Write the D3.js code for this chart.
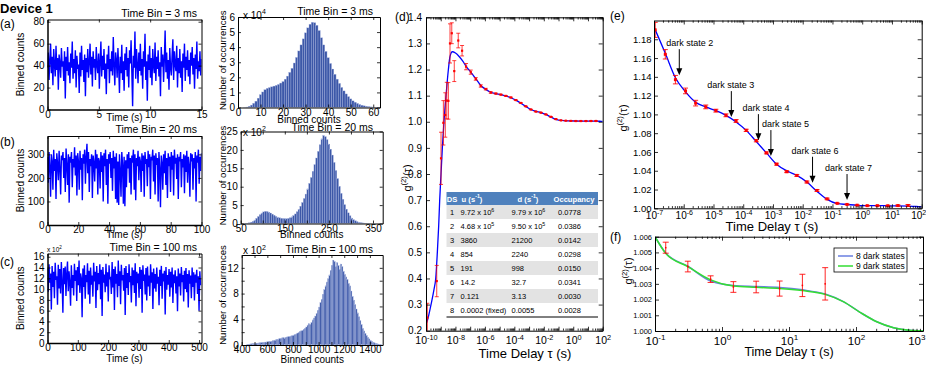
<!DOCTYPE html>
<html>
<head>
<meta charset="utf-8">
<script src="https://cdn.jsdelivr.net/npm/d3@7"></script>
<style>
body { margin: 0; background: #fff; }
</style>
</head>
<body>
<div id="fig"></div>
<script>
// ---- time traces (binned counts) ----
const traceA = [38,52,27,45,60,33,48,22,55,41,30,58,36,47,18,50,42,29,56,39,
  44,26,53,10,48,35,57,31,43,24,51,38,62,28,46,33,54,20,49,37,
  41,15,52,30,58,36,45,25,50,12,47,34,55,29,43,60,32,48,21,53,
  38,46,27,57,40,33,51,19,44,62,30,49,36,55,28,42,14,50,37,58,
  24,46,35,53,31,66,40,22,52,45,29,56,38,15,48,33,59,27,44,17,
  51,36,57,30,47,20,54,42,63,34,3,49,38,71,28,55,41,24,52,35,
  60,31,46,19,53,39,69,27,44,8,50,36,58,29,47,22,55,40,33,61,
  26,48,37,54,30,43,12,57,39,50,25,46,72,34,52,28,45,18,56,38,
  31,49,64,27,53,41,35,58,20,47,33,55,29,44,16,51,38,60,26,48,
  36,54,30,45,23,52,40,57,32,47,19,50,37,62,28,44,35,53,31,46];
const traceB = [290,180,310,250,120,300,270,150,320,230,280,110,305,260,190,315,240,130,295,275,
  310,200,285,140,325,255,170,300,95,290,265,310,160,280,245,330,210,295,125,305,
  270,150,315,235,285,105,300,260,320,175,290,345,220,310,140,280,250,300,115,295,
  265,185,320,240,300,130,285,270,155,310,225,295,100,305,250,320,170,280,90,300,
  260,310,200,285,145,315,240,290,110,305,95,270,85,300,230,120,310,255,90,290,
  80,275,160,300,240,310,180,285,130,295,265,320,150,300,105,285,250,315,190,290,
  270,140,305,230,295,120,310,260,280,165,315,245,300,110,290,275,320,185,295,130,
  305,255,285,100,310,240,75,295,265,150,300,220,315,170,285,115,305,250,290,140,
  310,235,295,125,320,260,285,195,300,110,290,270,310,160,280,245,300,135,295,225,
  315,180,290,255,120,305,270,300,150,285,240,310,100,295,265,320,175,290,230,305];
const traceC = [13.8,9.5,14.6,11.2,12.9,6.2,14.3,10.4,13.2,8.3,14.9,11.7,12.4,7.1,14.5,10.1,13.7,9.2,15.0,11.4,
  5.6,13.9,10.9,14.2,8.7,12.8,15.1,9.6,13.3,11.1,6.9,14.4,10.2,12.6,8.8,14.7,11.5,13.5,7.8,14.1,
  10.7,15.3,9.3,12.9,12.0,4.8,13.8,10.4,14.4,8.2,12.6,11.3,14.8,9.0,13.4,7.3,14.0,10.8,12.5,8.6,
  14.9,11.4,13.2,6.5,14.3,9.8,13.0,10.9,14.6,8.1,13.6,5.0,14.1,11.2,12.7,9.4,14.7,10.5,13.1,7.7,
  14.4,11.8,12.3,9.1,15.0,10.3,13.7,6.1,14.2,11.0,12.8,8.5,15.3,10.6,13.3,7.2,14.5,11.6,12.6,9.7,
  13.9,5.2,14.3,10.2,13.0,8.9,14.6,11.3,12.4,7.5,14.0,10.7,13.5,9.3,14.8,6.8,13.2,11.1,12.9,8.4,
  14.1,10.0,13.6,5.6,14.4,11.5,12.7,9.0,13.9,7.9,14.2,10.5,12.5,8.7,14.6,11.2,13.1,6.3,13.8,10.1,
  12.8,9.5,14.0,11.0,12.3,7.0,13.6,10.6,14.3,8.2,12.9,11.4,13.4,5.3,14.1,9.9,12.6,10.8,13.7,8.6,
  13.2,10.3,14.0,7.4,12.7,11.1,13.5,9.2,12.4,5.9,13.8,10.5,12.9,8.8,14.1,11.3,12.6,7.7,13.4,10.0,
  13.9,9.4,12.8,6.6,13.5,11.0,12.5,8.3,14.0,10.4,13.1,7.9,12.7,11.2,13.6,9.1,12.4,6.0,13.3,10.7];

// ---- histograms ----
// (a) one bin per count value 0..63, in units of 1e4
const histA = [0,0,0,0.01,0.03,0.08,0.16,0.28,0.42,0.62,0.85,1.03,1.18,1.27,1.32,1.37,1.42,1.47,1.53,1.62,
  1.72,1.88,2.08,2.33,2.6,2.95,3.32,3.75,4.15,4.55,4.95,5.28,5.52,5.65,5.62,5.45,5.1,4.62,4.15,3.72,
  3.3,2.92,2.55,2.2,1.88,1.6,1.33,1.1,0.9,0.72,0.57,0.44,0.35,0.27,0.2,0.15,0.11,0.08,0.06,0.04,
  0.03,0.02,0.01,0.005];
// (b) bins of 4 counts starting at 62, units of 1e2
const histB = [0.05,0.1,0.2,0.35,0.6,0.95,1.4,1.9,2.4,2.85,3.15,3.3,3.25,3.1,2.85,2.55,2.25,1.95,1.75,1.55,
  1.42,1.35,1.3,1.3,1.38,1.55,1.8,2.15,2.6,3.2,3.9,4.7,5.7,6.8,8.0,9.4,10.9,12.5,14.2,16.0,
  17.8,19.6,21.4,23.0,23.9,23.6,22.8,21.6,20.2,18.6,16.6,14.4,12.2,10.1,8.2,6.6,5.1,3.9,2.9,2.1,
  1.5,1.05,0.75,0.52,0.36,0.25,0.17,0.11,0.07,0.04,0.02];
// (c) bins of 10 counts starting at 445, units of 1e2
const histC = [0.1,0.12,0.15,0.18,0.2,0.22,0.25,0.27,0.3,0.32,0.35,0.37,0.4,0.42,0.45,0.48,0.5,0.55,0.58,0.6,
  0.65,0.72,0.8,0.9,0.85,1.05,1.0,1.1,1.15,1.1,1.2,1.25,1.3,1.3,1.4,1.45,1.55,1.6,1.7,1.85,
  1.9,2.1,2.2,2.3,2.45,2.6,2.8,3.1,3.3,3.2,3.5,3.9,4.2,4.5,4.9,5.4,5.9,6.6,7.1,7.9,
  8.6,9.2,9.8,10.3,10.9,11.6,12.4,13.2,13.0,12.2,12.8,12.4,11.8,12.6,12.2,11.5,11.0,10.6,10.2,9.6,
  9.2,8.4,7.6,7.0,6.3,5.6,5.0,4.4,3.8,3.2,2.6,2.2,1.8,1.5,1.2,0.95,0.75,0.6,0.45,0.35,
  0.27,0.2,0.15,0.1,0.07];

// ---- g2 correlation: measured points (log10 tau), values, errors ----
const ptLog = [-9.91,-9.27,-8.98,-8.82,-8.69,-8.59,-8.48,-8.37,-8.25,-8.08,-7.81,-7.55,-7.28,-6.96,-6.62,-6.28,-5.94,-5.6,-5.26,-4.92,
  -4.58,-4.24,-3.9,-3.56,-3.22,-2.88,-2.54,-2.2,-1.86,-1.52,-1.18,-0.84,-0.51,-0.17,0.17,0.51,0.86,1.2,1.54];
const ptG2 = [0.25,0.39,0.86,0.996,1.026,1.081,1.08,1.30,1.339,1.194,1.311,1.272,1.211,1.19,1.164,1.137,1.125,1.112,1.108,1.104,
  1.099,1.093,1.083,1.072,1.059,1.047,1.039,1.035,1.028,1.019,1.010,1.0053,1.0041,1.0033,1.0028,1.0028,1.0027,1.0029,1.0030];
const ptErr = [0.055,0.06,0.1,0.085,0.085,0.07,0.07,0.075,0.04,0.04,0.028,0.02,0.012,0.008,0.005,0.0045,0.003,0.003,0.002,0.0015,
  0.0015,0.0015,0.0012,0.0012,0.001,0.001,0.001,0.001,0.001,0.001,0.0008,0.00035,0.00034,0.00021,0.00034,0.00037,0.00048,0.00071,0.00103];

// fit curve (8 dark states)
const fitLog = [-10.0,-9.9,-9.66,-9.45,-9.34,-9.23,-9.14,-9.07,-8.98,-8.89,-8.78,-8.64,-8.48,-8.37,-8.21,-8.0,-7.75,-7.5,-7.25,-7.0,
  -6.62,-6.28,-5.94,-5.6,-5.26,-4.92,-4.58,-4.24,-3.9,-3.56,-3.22,-2.88,-2.54,-2.2,-1.86,-1.52,-1.18,-0.84,-0.51,-0.17,
  0.17,0.51,0.86,1.2,1.54,1.81,2.0];
const fitG2 = [0.225,0.24,0.30,0.36,0.40,0.50,0.60,0.70,0.80,0.90,1.00,1.10,1.20,1.25,1.268,1.263,1.25,1.232,1.21,1.193,
  1.165,1.139,1.124,1.113,1.108,1.104,1.099,1.092,1.083,1.071,1.059,1.047,1.040,1.035,1.028,1.018,1.0095,1.0050,1.0041,1.0032,
  1.0029,1.0028,1.0027,1.0026,1.0023,1.0019,1.0015];

// long-time tail (panel f)
const tailLog = [-1,-0.84,-0.51,-0.17,0.17,0.51,0.86,1.2,1.54,1.81,2.06,2.31,2.56,2.8,3.0];
const tail8 = [1.0060,1.00496,1.00412,1.00318,1.00289,1.00283,1.00277,1.00262,1.00235,1.00187,1.00119,1.00059,1.00021,1.00004,1.0];
const tail9 = [1.0060,1.00494,1.0041,1.00325,1.00286,1.00278,1.00271,1.00257,1.00233,1.00187,1.00119,1.00059,1.00021,1.00004,1.0];

// dark state arrows in (e)
const arrowLog = [-6.15,-4.4,-3.49,-3.07,-1.67,-0.51];
const arrowTip = [1.1418,1.0971,1.0726,1.0556,1.0272,1.0088];
const arrowText = ["dark state 2","dark state 3","dark state 4","dark state 5","dark state 6","dark state 7"];
const arrowDx = [-13,-24,-16,-9,-21,-22];

// fit parameter table
const tblDS = ["1","2","3","4","5","6","7","8"];
const tblU = ["9.72 x 10^6","4.68 x 10^5","3860","854","191","14.2","0.121","0.0002 (fixed)"];
const tblD = ["9.79 x 10^6","9.50 x 10^5","21200","2240","998","32.7","3.13","0.0055"];
const tblOcc = ["0.0778","0.0386","0.0142","0.0298","0.0150","0.0341","0.0030","0.0028"];

const FONT = '"Liberation Sans", Arial, sans-serif';
const svg = d3.select("#fig").append("svg")
    .attr("width", 926).attr("height", 366)
    .style("font-family", FONT);
svg.append("rect").attr("width", 926).attr("height", 366).attr("fill", "#fff");

let clipId = 0;
function clipFor(g, x, y) {
    const id = "clip" + (clipId++);
    const [xl, xr] = x.range(), [yb, yt] = y.range();
    svg.append("clipPath").attr("id", id).append("rect")
        .attr("x", xl).attr("y", yt).attr("width", xr - xl).attr("height", yb - yt);
    return g.append("g").attr("clip-path", `url(#${id})`);
}

// text with ^superscript^ parts; the first part keeps the parent's dy
function rich(sel, str, fs) {
    const parts = str.split("^");
    parts.forEach((p, i) => {
        if (!p) return;
        const up = i % 2 === 1;
        const ts = sel.append("tspan").text(p).attr("font-size", up ? fs * 0.7 : fs);
        if (up) ts.attr("dy", -fs * 0.42);
        else if (i > 0) ts.attr("dy", fs * 0.42);
    });
    return sel;
}

// boxed axes with inward ticks on four sides
function frame(g, x, y, o) {
    const [xl, xr] = x.range(), [yb, yt] = y.range();
    const tk = o.tk ?? 3, fs = o.fs ?? 10, xfs = o.xfs ?? fs;
    const none = () => "";
    const mk = (axis, tx, ty, size) => g.append("g")
        .attr("transform", `translate(${tx},${ty})`)
        .call(axis)
        .attr("font-family", null).attr("font-size", size ?? fs);
    if (o.xMinor) {
        mk(d3.axisBottom(x).tickValues(o.xMinor).tickFormat(none).tickSize(-tk * 0.55), 0, yb).select(".domain").remove();
        mk(d3.axisTop(x).tickValues(o.xMinor).tickFormat(none).tickSize(-tk * 0.55), 0, yt).select(".domain").remove();
    }
    const bx = mk(d3.axisBottom(x).tickValues(o.xt).tickFormat(o.xf).tickSizeInner(-tk).tickSizeOuter(0).tickPadding(o.xpad ?? 2), 0, yb, xfs);
    mk(d3.axisTop(x).tickValues(o.xt).tickFormat(none).tickSizeInner(-tk).tickSizeOuter(0), 0, yt);
    const ly = mk(d3.axisLeft(y).tickValues(o.yt).tickFormat(o.yf).tickSizeInner(-tk).tickSizeOuter(0).tickPadding(o.ypad ?? 3), xl, 0);
    mk(d3.axisRight(y).tickValues(o.yt).tickFormat(none).tickSizeInner(-tk).tickSizeOuter(0), xr, 0);
    g.selectAll(".domain").attr("stroke", "#000");
    g.selectAll(".tick line").attr("stroke", "#000").attr("stroke-width", 0.8);
    g.selectAll(".tick text").attr("fill", "#000");
    if (o.log) {
        const texts = bx.selectAll(".tick text");
        const n = texts.size();
        texts.each(function (d, i) {
            const t = d3.select(this);
            if (!o.logShow(d)) { t.text(""); return; }
            const e = Math.round(Math.log10(d));
            t.text(null);
            rich(t, "10^" + e, xfs);
            // keep the last label inside the figure
            if (o.lastEnd && i === n - 1) t.attr("text-anchor", "end").attr("x", o.lastEnd);
        });
    }
    return { bx, ly };
}

function label(x, y, str, fs, anchor, rot, weight) {
    const t = svg.append("text")
        .attr("transform", `translate(${x},${y})` + (rot ? " rotate(-90)" : ""))
        .attr("text-anchor", anchor || "middle")
        .attr("font-size", fs).attr("fill", "#000");
    if (weight) t.attr("font-weight", weight);
    rich(t, str, fs);
    return t;
}

// ---------- time traces ----------
function trace(vals, tEnd, xDom, yDom, top, bot, xt, yt, title, titleY, labY) {
    const x = d3.scaleLinear().domain(xDom).range([47.5, 201.5]);
    const y = d3.scaleLinear().domain(yDom).range([bot, top]);
    const g = svg.append("g");
    const inner = clipFor(g, x, y);
    inner.append("path").datum(vals)
        .attr("d", d3.line().x((d, i) => x(tEnd * i / (vals.length - 1))).y(d => y(d)))
        .attr("fill", "none").attr("stroke", "#0000ff").attr("stroke-width", 1.4);
    const f = frame(g, x, y, { xt, yt, xf: d3.format("d"), yf: d3.format("d"), xpad: 1, ypad: 3, fs: 10 });
    f.bx.select(".domain").attr("stroke-width", 1.5);
    f.ly.select(".domain").attr("stroke-width", 1.5);
    label(197, titleY, title, 10.5, "end");
    label(124.5, labY, "Time (s)", 10);
    label(24, (top + bot) / 2, "Binned counts", 10, "middle", true);
}
trace(traceA, 15, [0, 15], [0, 82], 19.5, 109.5, [0, 5, 10, 15], [0, 20, 40, 60, 80], "Time Bin = 3 ms", 16.5, 121);
trace(traceB, 100, [0, 100], [0, 378], 136, 225, [0, 20, 40, 60, 80, 100], [0, 100, 200, 300], "Time Bin = 20 ms", 132.5, 238);
trace(traceC, 505, [0, 508], [0, 16.6], 253.5, 343, [0, 100, 200, 300, 400, 500], d3.range(0, 17, 2), "Time Bin = 100 ms", 250.5, 362);
label(47, 252, "x 10^2", 6.5, "start");

// ---------- histograms ----------
function hist(counts, first, width, xDom, yDom, xr, top, bot, xt, xShow, yt, yShow, title, titleY, labY, yLabShift) {
    const x = d3.scaleLinear().domain(xDom).range(xr);
    const y = d3.scaleLinear().domain(yDom).range([bot, top]);
    const g = svg.append("g");
    const inner = clipFor(g, x, y);
    inner.selectAll("rect").data(counts).join("rect")
        .attr("x", (d, i) => x(first + i * width - width / 2))
        .attr("width", (d, i) => x(first + i * width + width / 2) - x(first + i * width - width / 2))
        .attr("y", d => y(d))
        .attr("height", d => y(0) - y(d))
        .attr("fill", "#3d58a8")
        .attr("stroke", "#a8b6e0").attr("stroke-width", 0.35);
    frame(g, x, y, {
        xt, yt, fs: 10, xpad: 1, ypad: 3,
        xf: d => xShow.includes(d) ? d : "",
        yf: d => yShow.includes(d) ? d : ""
    });
    label(373, titleY, title, 10.5, "end");
    label((xr[0] + xr[1]) / 2, labY, "Binned counts", 10);
    label(226, (top + bot) / 2 - yLabShift, "Number of occurrences", 9.6, "middle", true);
}
hist(histA, 0, 1, [0, 63], [0, 6], [238, 380], 17, 107.5, d3.range(0, 61, 10), d3.range(0, 61, 10),
    d3.range(0, 7), d3.range(0, 7), "Time Bin = 3 ms", 14.5, 122.5, 2);
label(243, 18.5, "x 10^4", 10, "start");
hist(histB, 62, 4, [50, 372], [0, 25], [240.7, 382.7], 131.5, 223.5, d3.range(50, 351, 50), [50, 150, 250, 350],
    d3.range(0, 26, 5), d3.range(0, 26, 5), "Time Bin = 20 ms", 130.5, 237.5, 2);
label(243, 135.5, "x 10^2", 10, "start");
hist(histC, 445, 10, [400, 1500], [0, 14], [241.7, 382.7], 255, 345, d3.range(400, 1401, 100), [400, 600, 800, 1000, 1200, 1400],
    d3.range(0, 14, 2), [0, 4, 8, 12], "Time Bin = 100 ms", 253, 362.5, 5);
label(243, 254, "x 10^2", 10, "start");

// ---------- shared log-tick helper ----------
function logMinor(lo, hi) {
    const out = [];
    for (let e = lo; e < hi; e++) for (let m = 2; m <= 9; m++) out.push(m * Math.pow(10, e));
    return out;
}
function decades(lo, hi) { return d3.range(lo, hi + 1).map(e => Math.pow(10, e)); }

function errBars(g, x, y, pts, cap, dot, op) {
    const s = g.selectAll(null).data(pts).join("g");
    s.append("line").attr("x1", d => x(d.t)).attr("x2", d => x(d.t))
        .attr("y1", d => y(d.v - d.e)).attr("y2", d => y(d.v + d.e));
    [-1, 1].forEach(k => s.append("line")
        .attr("x1", d => x(d.t) - cap / 2).attr("x2", d => x(d.t) + cap / 2)
        .attr("y1", d => y(d.v + k * d.e)).attr("y2", d => y(d.v + k * d.e)));
    s.selectAll("line").attr("stroke", "#ff0000").attr("stroke-width", 1).attr("opacity", op);
    s.append("rect").attr("x", d => x(d.t) - dot / 2).attr("y", d => y(d.v) - dot / 2)
        .attr("width", dot).attr("height", dot).attr("fill", "#ff0000");
}

const points = ptLog.map((l, i) => ({ t: Math.pow(10, l), v: ptG2[i], e: ptErr[i] }));
const fitPts = fitLog.map((l, i) => ({ t: Math.pow(10, l), v: fitG2[i] }));

// ---------- (d) full g2 ----------
{
    const x = d3.scaleLog().domain([1e-10, 1e2]).range([426, 602.7]);
    const y = d3.scaleLinear().domain([0.2, 1.4]).range([330.7, 17.3]);
    const g = svg.append("g");
    const inner = clipFor(g, x, y);
    inner.append("path").datum(fitPts)
        .attr("d", d3.line().x(d => x(d.t)).y(d => y(d.v)).curve(d3.curveMonotoneX))
        .attr("fill", "none").attr("stroke", "#0000ff").attr("stroke-width", 1.3);
    errBars(inner, x, y, points, 4, 2.2, 0.75);
    frame(g, x, y, {
        xt: decades(-10, 2), xMinor: logMinor(-10, 2), log: true,
        logShow: d => Math.round(Math.log10(d)) % 2 === 0,
        yt: d3.range(2, 15).map(v => v / 10), yf: d3.format(".1f"),
        fs: 10, xfs: 10.5, xpad: 6, ypad: 4, tk: 4
    });

    // parameter table
    const t = svg.append("g");
    const x0 = 446.5, x1 = 598, y0 = 192, hh = 13, rh = 14;
    t.append("rect").attr("x", x0).attr("y", y0).attr("width", x1 - x0).attr("height", hh).attr("fill", "#4f81bd");
    tblDS.forEach((d, i) => t.append("rect").attr("x", x0).attr("y", y0 + hh + i * rh)
        .attr("width", x1 - x0).attr("height", rh).attr("fill", i % 2 === 0 ? "#e3e3e3" : "#ffffff"));
    t.append("line").attr("x1", x0).attr("x2", x1).attr("y1", y0 + hh + 8 * rh).attr("y2", y0 + hh + 8 * rh)
        .attr("stroke", "#000").attr("stroke-width", 1);
    const hdr = [["DS", 452, "middle"], ["u (s^-1^)", 472, "middle"], ["d (s^-1^)", 528, "middle"], ["Occupancy", 574, "middle"]];
    hdr.forEach(([s, hx, a]) => {
        const tt = t.append("text").attr("x", hx).attr("y", y0 + 9.5).attr("text-anchor", a)
            .attr("fill", "#fff").attr("font-weight", "bold");
        rich(tt, s, 7.6);
    });
    const cols = [[tblDS, 452, "middle"], [tblU, 460.5, "start"], [tblD, 511.5, "start"], [tblOcc, 558, "start"]];
    cols.forEach(([arr, cx, a]) => arr.forEach((s, i) => {
        const tt = t.append("text").attr("x", cx).attr("y", y0 + hh + i * rh + 10).attr("text-anchor", a).attr("fill", "#000");
        rich(tt, s, 7.5);
    }));

    label(525, 358, "Time Delay τ (s)", 13);
    label(411, 178, "g^(2)^(τ)", 11, "middle", true);
    label(395, 21, "(d)", 12, "start");
}

// ---------- (e) zoom on bunching ----------
{
    const x = d3.scaleLog().domain([1e-7, 1e2]).range([654, 921.7]);
    const y = d3.scaleLinear().domain([1.0, 1.2]).range([208.3, 20.5]);
    const g = svg.append("g");
    const inner = clipFor(g, x, y);
    inner.append("path").datum(fitPts)
        .attr("d", d3.line().x(d => x(d.t)).y(d => y(d.v)).curve(d3.curveMonotoneX))
        .attr("fill", "none").attr("stroke", "#0000ff").attr("stroke-width", 1.3);
    errBars(inner, x, y, points.filter(p => p.t >= 1e-7), 5, 3, 0.85);
    frame(g, x, y, {
        xt: decades(-7, 2), xMinor: logMinor(-7, 2), log: true, logShow: () => true, lastEnd: 4,
        yt: d3.range(0, 10).map(v => 1 + v * 0.02), yf: d3.format(".2f"),
        fs: 9.5, xfs: 10, xpad: 4, ypad: 2.5, tk: 4
    });
    // arrows
    arrowLog.forEach((l, i) => {
        const ax = x(Math.pow(10, l)), tip = y(arrowTip[i]), top = tip - 26;
        svg.append("line").attr("x1", ax).attr("x2", ax).attr("y1", top).attr("y2", tip - 5)
            .attr("stroke", "#000").attr("stroke-width", 1);
        svg.append("path").attr("d", `M${ax - 3},${tip - 7}L${ax + 3},${tip - 7}L${ax},${tip}Z`).attr("fill", "#000");
        label(ax + arrowDx[i], top - 3, arrowText[i], 9, "start");
    });
    label(772, 231, "Time Delay τ (s)", 13);
    label(627, 118, "g^(2)^(τ)", 11, "middle", true);
    label(610, 20, "(e)", 12, "start");
}

// ---------- (f) long-time tail ----------
{
    const x = d3.scaleLog().domain([0.1, 1000]).range([655, 923]);
    const y = d3.scaleLinear().domain([1.0, 1.006]).range([331, 236.7]);
    const g = svg.append("g");
    const inner = clipFor(g, x, y);
    const line = d3.line().x(d => x(d.t)).y(d => y(d.v)).curve(d3.curveMonotoneX);
    inner.append("path").datum(tailLog.map((l, i) => ({ t: Math.pow(10, l), v: tail8[i] })))
        .attr("d", line).attr("fill", "none").attr("stroke", "#6a7fe0").attr("stroke-width", 1.5);
    inner.append("path").datum(tailLog.map((l, i) => ({ t: Math.pow(10, l), v: tail9[i] })))
        .attr("d", line).attr("fill", "none").attr("stroke", "#33dd33").attr("stroke-width", 1.5);
    errBars(inner, x, y, points.filter(p => p.t >= 0.1), 6, 1.5, 0.85);
    frame(g, x, y, {
        xt: decades(-1, 3), xMinor: logMinor(-1, 3), log: true, logShow: () => true, lastEnd: 2,
        yt: d3.range(0, 7).map(v => 1 + v * 0.001), yf: d3.format(".3f"),
        fs: 7.5, xfs: 11.5, xpad: 5.5, ypad: 3, tk: 4
    });
    // legend
    const lg = svg.append("g");
    lg.append("rect").attr("x", 834).attr("y", 248).attr("width", 73).attr("height", 24)
        .attr("fill", "#fff").attr("stroke", "#000").attr("stroke-width", 0.8);
    [["8 dark states", "#6a7fe0"], ["9 dark states", "#33dd33"]].forEach(([s, c], i) => {
        lg.append("line").attr("x1", 838).attr("x2", 853).attr("y1", 256 + i * 10).attr("y2", 256 + i * 10)
            .attr("stroke", c).attr("stroke-width", 1.5);
        label(856, 259 + i * 10, s, 8.5, "start");
    });
    label(789, 356, "Time Delay τ (s)", 12.5);
    label(632, 271, "g^(2)^(τ)", 11, "middle", true);
    label(610, 241, "(f)", 12, "start");
}

// panel letters
label(0, 12.5, "Device 1", 13, "start", false, "bold");
label(0, 28, "(a)", 12, "start");
label(0, 146, "(b)", 12, "start");
label(0, 266, "(c)", 12, "start");
</script>
</body>
</html>
